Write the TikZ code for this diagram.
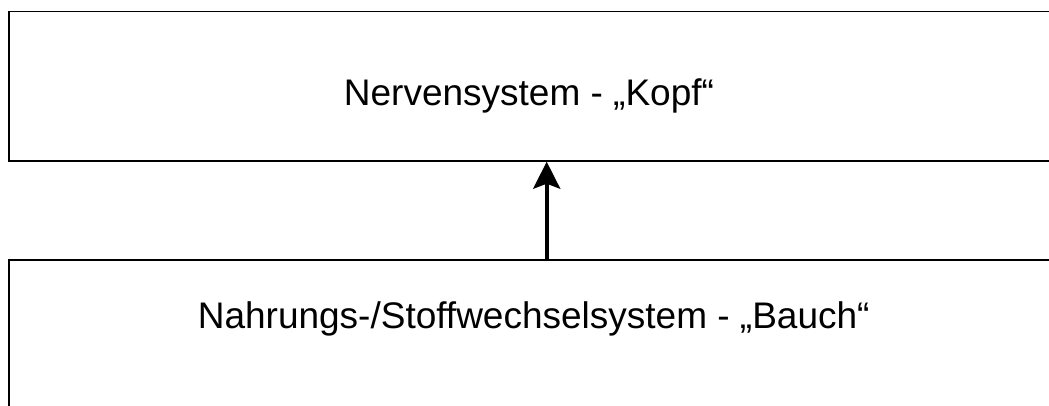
\documentclass[tikz,border=0pt]{standalone}
\usepackage{fontspec}
\setmainfont{Liberation Sans}
\usetikzlibrary{arrows.meta}
\begin{document}
\begin{tikzpicture}[x=1pt,y=-1pt,
  box/.style={draw, line width=1.8pt, rectangle, inner sep=0pt},
  lbl/.style={font=\fontsize{37}{44}\selectfont, anchor=base, inner sep=0pt},
  arr/.style={line width=3.8pt, -{Stealth[length=27pt,width=27pt,inset=5pt]}}]
\useasboundingbox (0,0) rectangle (1049,405);
\clip (0,0) rectangle (1049,405);
\node[box, minimum width=1040.8pt, minimum height=149.3pt] (kopf) at (529.6,86.15) {};
\node[box, minimum width=1049pt, minimum height=159.8pt] (bauch) at (533.7,340.1) {};
\node[lbl] (kopftext) at (529,105) {Nervensystem - „Kopf“};
\node[lbl] (bauchtext) at (533.7,328.3) {Nahrungs-/Stoffwechselsystem - „Bauch“};
\coordinate (ax) at (546.7,0);
\draw[arr] (bauch.north -| ax) -- (kopf.south -| ax);
\end{tikzpicture}
\end{document}
